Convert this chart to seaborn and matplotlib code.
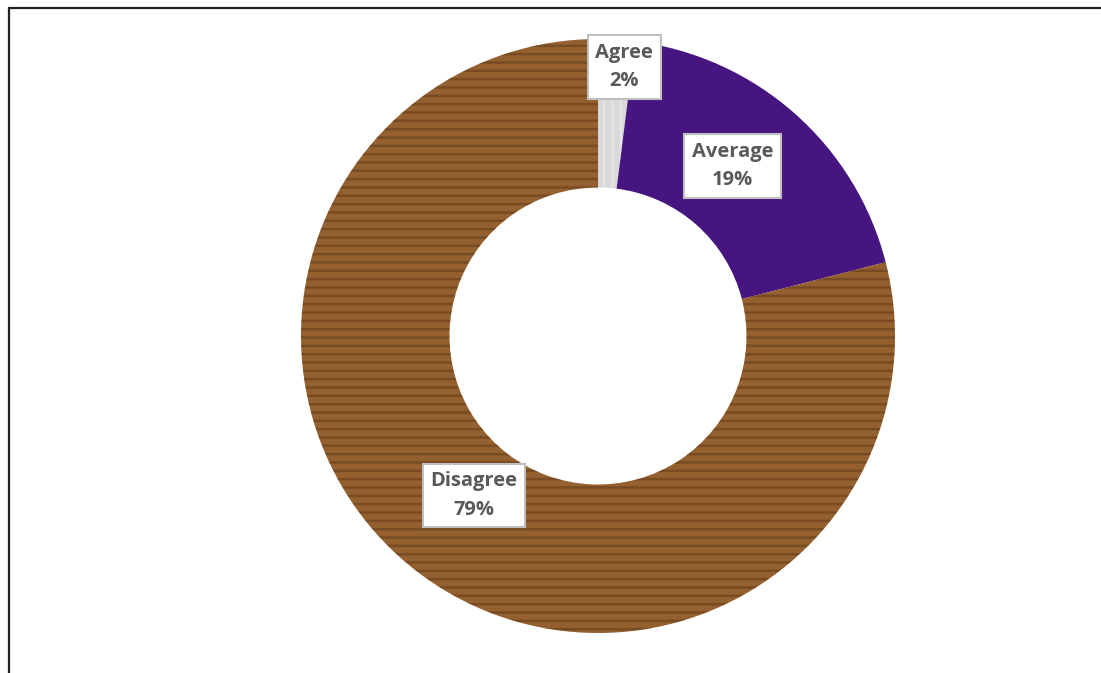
import numpy as np
import matplotlib
matplotlib.use("Agg")
import matplotlib.pyplot as plt
from matplotlib.lines import Line2D
import seaborn as sns

# --- dati ---
categories = ["Agree", "Average", "Disagree"]
shares = [2, 19, 79]  # percentuali
colors = ["#D9D9D9", "#47157F", "#94602F"]
hatch_colors = ["#F6F6F6", "#36106A", "#4E2C10"]
hatches = ["||", "", "--"]

# posizione etichette: raggio e piccolo spostamento angolare (gradi)
label_radius = [0.91, 0.73, 0.68]
label_shift = [2.0, -3.0, 0.0]

sns.set_theme(style="white")
plt.rcParams["font.family"] = ["Open Sans", "DejaVu Sans"]
plt.rcParams["hatch.linewidth"] = 1.8

W, H = 1101, 673
cx, cy, R = 598, 336, 297  # centro e raggio in pixel

fig = plt.figure(figsize=(W / 100, H / 100), dpi=100)
ax = fig.add_axes([0, 0, 1, 1])

# ciambella di base
wedges, _ = ax.pie(shares, colors=colors, startangle=90, counterclock=False,
                   radius=1, wedgeprops=dict(width=0.5, linewidth=0), frame=True)

# texture (legno / tessuto / marmo) con tratteggio
tex, _ = ax.pie(shares, colors=["none"] * 3, startangle=90, counterclock=False,
                radius=1, wedgeprops=dict(width=0.5, linewidth=0), frame=True)
for w, h, hc in zip(tex, hatches, hatch_colors):
    w.set_hatch(h)
    w.set_edgecolor(hc)
    w.set_alpha(0.4)

ax.set_xlim(-cx / R, (W - cx) / R)
ax.set_ylim(-(H - cy) / R, cy / R)
ax.set_axis_off()

# etichette
cum = np.cumsum([0] + shares[:-1])
for cat, val, c0, r, sh in zip(categories, shares, cum, label_radius, label_shift):
    mid = (c0 + val / 2) / sum(shares) * 360 + sh  # senso orario dall'alto
    x = r * np.sin(np.radians(mid))
    y = r * np.cos(np.radians(mid))
    ax.text(x, y, f"{cat}\n{val}%", ha="center", va="center", fontsize=14.5,
            fontweight="bold", color="#595959", linespacing=1.55,
            bbox=dict(boxstyle="square,pad=0.38", facecolor="white",
                      edgecolor="#BFBFBF", linewidth=1.5))

# cornice (solo lato superiore e sinistro visibili)
fig.add_artist(Line2D([8.5 / W, 1], [1 - 7.5 / H, 1 - 7.5 / H], color="#222222", lw=1.6,
                      transform=fig.transFigure))
fig.add_artist(Line2D([8.5 / W, 8.5 / W], [0, 1 - 7.5 / H], color="#222222", lw=1.6,
                      transform=fig.transFigure))

fig.savefig("out.png", dpi=100, facecolor="white")
